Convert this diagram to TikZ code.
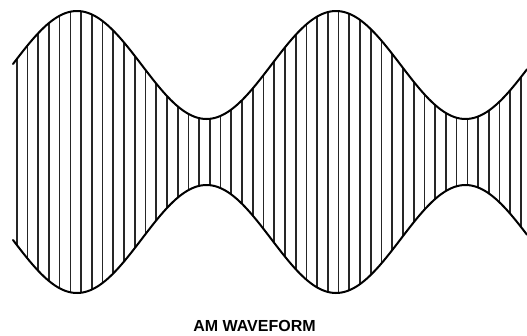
\documentclass[tikz,border=0pt]{standalone}
\usepackage{fontspec}
\setsansfont{Liberation Sans}
\usepackage{tikz}
\usetikzlibrary{positioning}

\begin{document}
\begin{tikzpicture}[
    x=1pt, y=-1pt,
    envelope/.style={line width=2pt, black, line cap=round},
    hatch/.style={line width=1.7pt, black!85},
    caption/.style={font=\sffamily\bfseries\fontsize{16}{19}\selectfont, anchor=base},
]
\useasboundingbox (0,0) rectangle (527,335);

% Carrier lines, clipped to the envelope
\begin{scope}
\clip plot[domain=13:527, samples=200, smooth] (\x, {152-(87+54*cos((\x-77)/259*360))})
   -- plot[domain=527:13, samples=200, smooth] (\x, {152+(87+54*cos((\x-77)/259*360))})
   -- cycle;
\foreach \i in {0,...,47}
  \draw[hatch] ({16.7+10.73*\i}, 0) -- ++(0, 335);
\end{scope}

% Upper and lower envelope
\draw[envelope] plot[domain=13:527, samples=200, smooth] (\x, {152-(87+54*cos((\x-77)/259*360))});
\draw[envelope] plot[domain=13:527, samples=200, smooth] (\x, {152+(87+54*cos((\x-77)/259*360))});

% Caption
\node[caption] (title) at (254.5, 331) {AM WAVEFORM};
\end{tikzpicture}
\end{document}
